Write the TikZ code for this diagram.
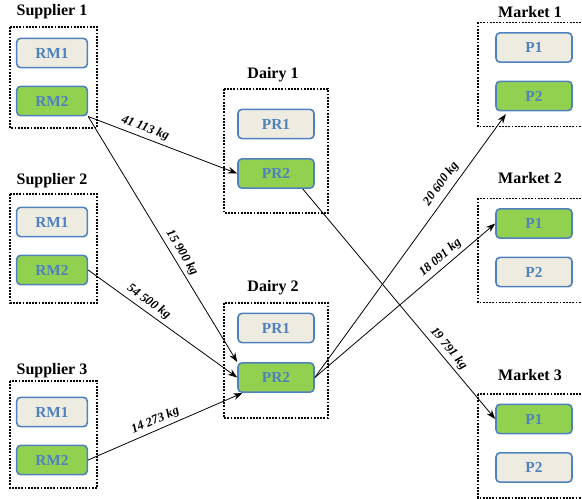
\documentclass[tikz,border=0pt]{standalone}
\usepackage{fontspec}
\setmainfont{Liberation Serif}
\usetikzlibrary{positioning}
\usetikzlibrary{arrows.meta}
\definecolor{boxblue}{RGB}{79,129,189}
\definecolor{boxgrey}{RGB}{238,236,225}
\definecolor{boxgreen}{RGB}{146,208,80}
\tikzset{unit/.style={draw=boxblue,line width=1.2pt,rounded corners=3pt,text=boxblue,font=\fontsize{11.5}{13}\selectfont\bfseries,minimum height=22pt,inner sep=0pt},
idle/.style={unit,fill=boxgrey},
used/.style={unit,fill=boxgreen},
frame/.style={draw,line width=1.3pt,dash pattern=on 1.3pt off 1.1pt},
title/.style={font=\fontsize{12}{14}\selectfont\bfseries},
flow/.style={-{Stealth[length=7pt,width=5pt]},line width=0.6pt},
qty/.style={font=\fontsize{9.5}{10}\selectfont\bfseries\itshape,sloped,above,inner sep=2.5pt}}

\begin{document}
\begin{tikzpicture}[x=0.75pt,y=-0.75pt]
\useasboundingbox (0,0) rectangle (582,499);
\clip (0,0) rectangle (582,499);
% suppliers
\foreach \i/\y/\t/\b in {1/53/27/128,2/222/194/303,3/412/381/488} {
\node (s\i-1) at (52,\y) [idle,minimum width=53pt] {RM1};
\node (s\i-2) at (52,\y+48) [used,minimum width=53pt] {RM2};
\draw[frame] (10,\t) rectangle (97,\b);
\node (st\i) at (52,\y-41) [title] {Supplier \i};
}
% dairies
\foreach \i/\y/\t/\b/\l in {1/124/89/213/75,2/328/303/418/288} {
\node (d\i-1) at (276,\y) [idle,minimum width=57pt] {PR1};
\node (d\i-2) at (276,\y+49.5) [used,minimum width=57pt] {PR2};
\draw[frame] (224,\t) rectangle (328,\b);
\node (dt\i) at (273,\l) [title] {Dairy \i};
}
% markets
\foreach \i/\y/\l/\ca/\cb in {1/47.5/12/idle/used,2/223.5/178/used/idle,3/419/375/used/idle} {
\node (m\i-1) at (534,\y) [\ca,minimum width=57pt] {P1};
\node (m\i-2) at (534,\y+48.5) [\cb,minimum width=57pt] {P2};
\draw[frame] (478,\y-25) rectangle (600,\y+79);
\node (mt\i) at (530,\l) [title] {Market \i};
}
%flows
\draw[flow] (s1-2.south east) -- node[qty,pos=0.36] {41 113 kg} (d1-2.west);
\draw[flow] (s1-2.south east) -- node[qty,pos=0.575] {15 900 kg} (d2-2.north west);
\draw[flow] (s2-2.east) -- node[qty,pos=0.37] {54 500 kg} (d2-2.west);
\draw[flow] (s3-2.east) -- node[qty,pos=0.46] {14 273 kg} ([xshift=4pt]d2-2.south west);
\draw[flow] (d2-2.east) -- node[qty,pos=0.71,inner sep=4pt] {20 600 kg} ([xshift=8pt,yshift=-2pt]m1-2.south west);
\draw[flow] (d2-2.east) -- node[qty,pos=0.73] {18 091 kg} (m2-1.west);
\draw[flow] ([xshift=-9pt]d1-2.south east) -- node[qty,pos=0.72] {19 791 kg} (m3-1.west);
\end{tikzpicture}
\end{document}
